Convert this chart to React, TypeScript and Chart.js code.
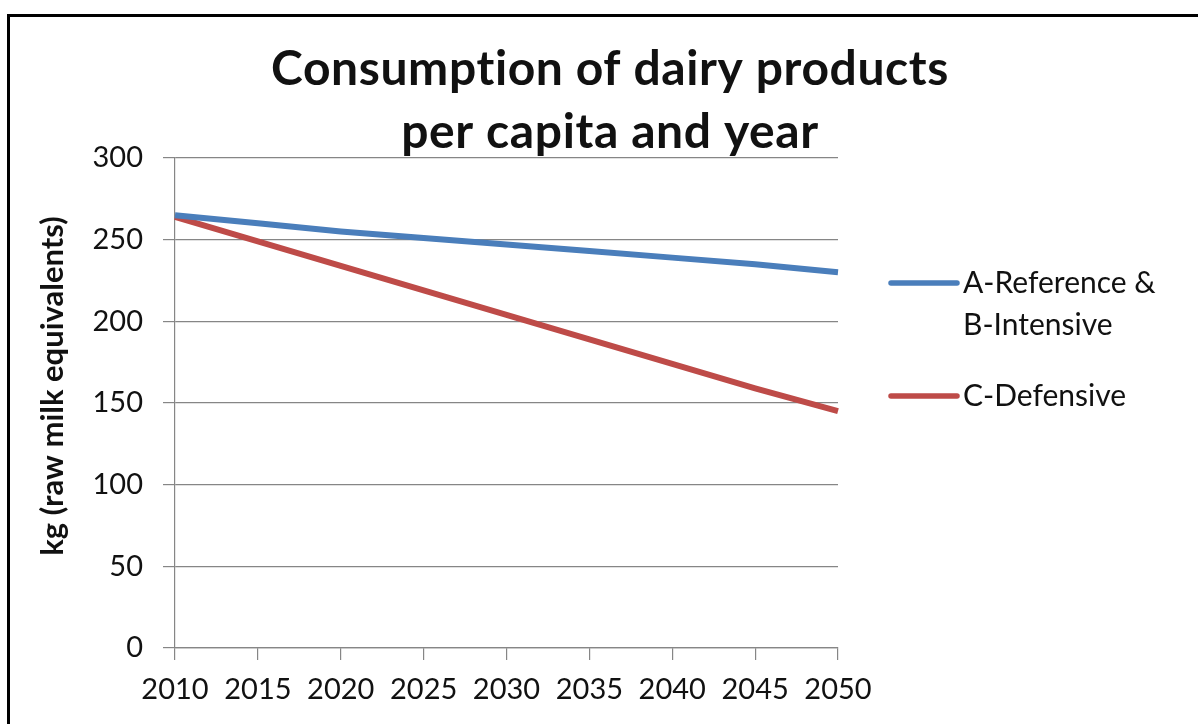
import React, { useEffect, useRef } from "react";
import { Chart, registerables } from "chart.js";

Chart.register(...registerables);

// Chart content
const YEARS = ["2010", "2015", "2020", "2025", "2030", "2035", "2040", "2045", "2050"];
const REFERENCE_INTENSIVE = [265, 260, 255, 251, 247, 243, 239, 235, 230];
const DEFENSIVE = [264, 249, 234, 219, 204, 189, 174, 159, 145];
const SERIES_NAMES = [["A-Reference &", "B-Intensive"], ["C-Defensive"]];
const SERIES_COLORS = ["#4A7EBB", "#BE4B48"];
const TITLE_LINES = ["Consumption of dairy products", "per capita and year"];
const Y_TITLE = "kg (raw milk equivalents)";
const Y_TICKS = [0, 50, 100, 150, 200, 250, 300];

const FONT = "Lato, 'Open Sans', 'DejaVu Sans', sans-serif";
const TEXT_COLOR = "#111111";
const GRID_COLOR = "#868686";

// Draws the two-line heading, the rotated y-axis caption and the right-hand legend.
const decorations = {
  id: "decorations",
  afterDraw(chart: Chart) {
    const ctx = chart.ctx as any;
    ctx.save();
    ctx.fillStyle = TEXT_COLOR;
    ctx.textBaseline = "middle";

    // heading (slight tracking keeps the letters unligated)
    ctx.font = `bold 48px ${FONT}`;
    ctx.letterSpacing = "0.6px";
    ctx.textAlign = "center";
    TITLE_LINES.forEach((line: string, i: number) => ctx.fillText(line, 610, 70 + i * 63));
    ctx.letterSpacing = "0px";

    // y-axis caption
    ctx.save();
    ctx.translate(53, 386);
    ctx.rotate(-Math.PI / 2);
    ctx.font = `bold 31px ${FONT}`;
    ctx.fillText(Y_TITLE, 0, 0);
    ctx.restore();

    // legend
    ctx.font = `30px ${FONT}`;
    ctx.textAlign = "left";
    let y = 283;
    chart.data.datasets.forEach((ds, i) => {
      ctx.strokeStyle = ds.borderColor as string;
      ctx.lineWidth = 5.5;
      ctx.lineCap = "round";
      ctx.beginPath();
      ctx.moveTo(891, y);
      ctx.lineTo(957, y);
      ctx.stroke();
      SERIES_NAMES[i].forEach((line) => {
        ctx.fillText(line, 963, y);
        y += 42;
      });
      y += 29;
    });
    ctx.restore();
  },
};

export default function App() {
  const canvasRef = useRef<HTMLCanvasElement | null>(null);

  useEffect(() => {
    if (!canvasRef.current) return;
    const chart = new Chart(canvasRef.current, {
      type: "line",
      data: {
        labels: YEARS,
        datasets: [
          {
            label: SERIES_NAMES[0].join(" "),
            data: REFERENCE_INTENSIVE,
            borderColor: SERIES_COLORS[0],
            backgroundColor: SERIES_COLORS[0],
            borderWidth: 6,
            pointRadius: 0,
            tension: 0,
          },
          {
            label: SERIES_NAMES[1].join(" "),
            data: DEFENSIVE,
            borderColor: SERIES_COLORS[1],
            backgroundColor: SERIES_COLORS[1],
            borderWidth: 6,
            pointRadius: 0,
            tension: 0,
          },
        ],
      },
      options: {
        responsive: false,
        animation: false,
        layout: { padding: { left: 0, top: 158, right: 360, bottom: 0 } },
        plugins: {
          legend: { display: false },
          title: { display: false },
          tooltip: { enabled: false },
        },
        scales: {
          x: {
            type: "category",
            offset: false,
            afterFit: (scale: any) => {
              scale.height = 76;
            },
            grid: {
              drawOnChartArea: false,
              drawTicks: true,
              tickLength: 12,
              color: GRID_COLOR,
              lineWidth: 1.2,
            },
            border: { color: GRID_COLOR, width: 1.2 },
            ticks: {
              color: TEXT_COLOR,
              font: { family: FONT, size: 29 },
              padding: 12,
              maxRotation: 0,
              autoSkip: false,
            },
          },
          y: {
            min: 0,
            max: 300,
            afterFit: (scale: any) => {
              scale.width = 175;
            },
            afterBuildTicks: (scale: any) => {
              scale.ticks = Y_TICKS.map((v) => ({ value: v }));
            },
            grid: {
              color: GRID_COLOR,
              lineWidth: 1.2,
              drawTicks: true,
              tickLength: 12,
            },
            border: { color: GRID_COLOR, width: 1.2 },
            ticks: {
              color: TEXT_COLOR,
              font: { family: FONT, size: 29 },
              padding: 20,
            },
          },
        },
      },
      plugins: [decorations],
    });
    return () => chart.destroy();
  }, []);

  return (
    <div
      style={{
        position: "absolute",
        left: 0,
        top: 0,
        width: 1198,
        height: 724,
        overflow: "hidden",
        background: "#ffffff",
      }}
    >
      <canvas ref={canvasRef} width={1198} height={724} style={{ position: "absolute", left: 0, top: 0 }} />
      <div
        style={{
          position: "absolute",
          left: 7,
          top: 14,
          width: 1400,
          height: 900,
          border: "3px solid #000",
          pointerEvents: "none",
        }}
      />
    </div>
  );
}
